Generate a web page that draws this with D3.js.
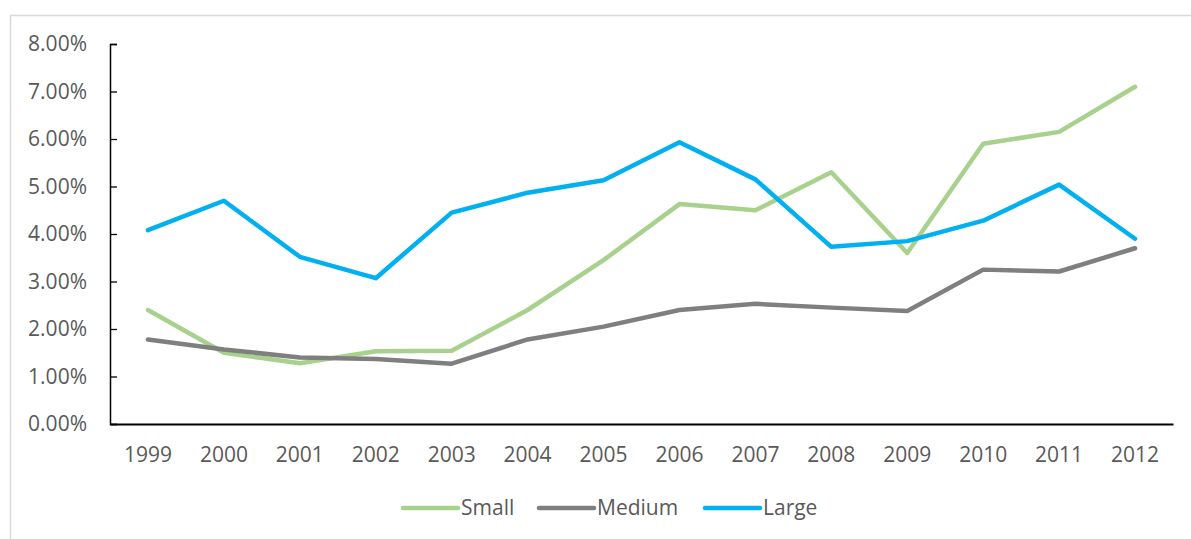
<!DOCTYPE html>
<html><head><meta charset="utf-8">
<script src="https://cdn.jsdelivr.net/npm/d3@7"></script>
<style>body{margin:0;background:#fff;}svg{display:block;font-family:"Open Sans",sans-serif;}</style>
</head><body><svg id="c" width="1191" height="539"></svg>
<script>
const years = ["1999","2000","2001","2002","2003","2004","2005","2006","2007","2008","2009","2010","2011","2012"];
const small = [2.40,1.50,1.28,1.53,1.54,2.40,3.45,4.63,4.50,5.30,3.60,5.90,6.15,7.10];
const medium = [1.78,1.57,1.40,1.37,1.27,1.78,2.05,2.40,2.53,2.45,2.38,3.25,3.21,3.70];
const large = [4.08,4.70,3.52,3.07,4.45,4.87,5.13,5.93,5.15,3.73,3.85,4.28,5.04,3.90];
const yTicks = [0,1,2,3,4,5,6,7,8];
const seriesNames = ["Small","Medium","Large"];
const colors = ["#A9D18E","#7F7F7F","#00B0F0"];
const series = [small, medium, large];

const svg = d3.select("#c");
svg.append("rect").attr("x",10.5).attr("y",15.5).attr("width",1200).attr("height",600)
  .attr("fill","#fff").attr("stroke","#D9D9D9").attr("stroke-width",1.5);

const x = d3.scaleBand().domain(years).range([110,1173]);
const y = d3.scaleLinear().domain([0,8]).range([424,44]);

// y axis
const ya = svg.append("g").attr("transform","translate(110,0)")
  .call(d3.axisRight(y).tickValues(yTicks).tickSize(7).tickFormat(d=>d.toFixed(2)+"%"));
ya.select(".domain").attr("stroke","#000").attr("stroke-width",1.5);
ya.selectAll(".tick line").attr("stroke","#000").attr("stroke-width",1.3);
ya.selectAll(".tick text").attr("x",-23).attr("text-anchor","end").attr("fill","#595959")
  .attr("font-size",21).attr("font-family","Open Sans");

// x axis
const xa = svg.append("g").attr("transform","translate(0,424)")
  .call(d3.axisBottom(x).tickSize(0));
xa.select(".domain").attr("stroke","#000").attr("stroke-width",1.8);
xa.selectAll(".tick text").attr("y",23).attr("fill","#595959").attr("font-size",21).attr("font-family","Open Sans");

const line = d3.line().x((d,i)=>x(years[i])+x.bandwidth()/2).y(d=>y(d));
series.forEach((s,k)=>{
  svg.append("path").datum(s).attr("d",line).attr("fill","none")
    .attr("stroke",colors[k]).attr("stroke-width",4.5)
    .attr("stroke-linecap","round").attr("stroke-linejoin","round");
});

// legend
const legX = [403,539,705];
const lg = svg.append("g");
seriesNames.forEach((n,k)=>{
  lg.append("line").attr("x1",legX[k]).attr("x2",legX[k]+55).attr("y1",508).attr("y2",508)
    .attr("stroke",colors[k]).attr("stroke-width",4.5).attr("stroke-linecap","round");
  lg.append("text").attr("x",legX[k]+58).attr("y",515).text(n)
    .attr("fill","#595959").attr("font-size",21).attr("font-family","Open Sans");
});
</script></body></html>
